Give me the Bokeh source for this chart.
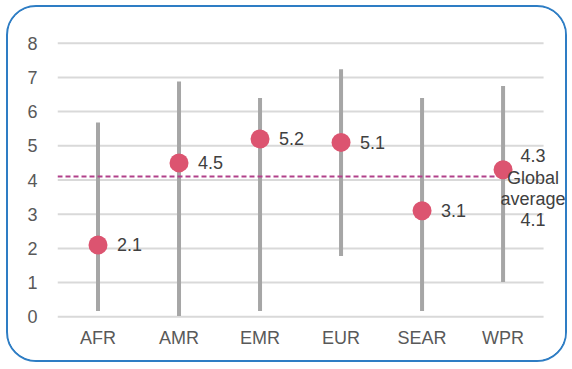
from bokeh.plotting import figure
from bokeh.models import Range1d, FixedTicker, ColumnDataSource
from bokeh.embed import file_html
from bokeh.resources import INLINE
from bokeh.core.properties import value

regions = ["AFR", "AMR", "EMR", "EUR", "SEAR", "WPR"]
range_low = [0.17, 0.02, 0.17, 1.78, 0.17, 1.02]
range_high = [5.68, 6.88, 6.40, 7.24, 6.40, 6.75]
points = [2.1, 4.5, 5.2, 5.1, 3.1, 4.3]
global_avg = 4.1
y_ticks = [0, 1, 2, 3, 4, 5, 6, 7, 8]

xs = list(range(len(regions)))
src = ColumnDataSource(dict(x=xs, lo=range_low, hi=range_high, v=points))

FONT = "Liberation Sans"
x_lo, x_hi = -0.5, len(regions) - 0.5

p = figure(width=561, height=357, output_backend="svg", toolbar_location=None,
           x_range=Range1d(x_lo, x_hi + 0.32), y_range=Range1d(-0.05, 8.05),
           min_border_left=49, min_border_right=0, min_border_top=34, min_border_bottom=46)
p.styles = {"border": "2px solid #2E7DC4", "border-radius": "30px", "overflow": "hidden",
            "margin-left": "6px", "margin-top": "5px"}
p.outline_line_color = None
p.background_fill_color = "white"
p.border_fill_color = "white"

p.xgrid.grid_line_color = None
p.ygrid.grid_line_color = None
# horizontal gridlines limited to the category area
p.segment(x0=[x_lo] * len(y_ticks), x1=[x_hi] * len(y_ticks), y0=y_ticks, y1=y_ticks,
          line_color="#D9D9D9", line_width=2)
p.yaxis.ticker = FixedTicker(ticks=y_ticks)
p.xaxis.ticker = FixedTicker(ticks=xs)
p.xaxis.major_label_overrides = {i: r for i, r in enumerate(regions)}
for ax in (p.xaxis, p.yaxis):
    ax.axis_line_color = None
    ax.major_tick_line_color = None
    ax.minor_tick_line_color = None
    ax.major_label_text_font = FONT
    ax.major_label_text_font_size = "18px"
    ax.major_label_text_color = "#595959"
p.xaxis.major_label_standoff = 3
p.yaxis.major_label_standoff = 14

p.segment(x0="x", x1="x", y0="lo", y1="hi", source=src, line_color="#A6A6A6", line_width=4)
p.segment(x0=[x_lo], x1=[xs[-1]], y0=[global_avg], y1=[global_avg],
          line_color="#B1408A", line_width=2, line_dash="5 3")
p.scatter(x="x", y="v", source=src, size=19, fill_color="#DC5470", line_color=None)

lab_src = ColumnDataSource(dict(x=xs[:-1], v=points[:-1], lab=[f"{v:.1f}" for v in points[:-1]]))
p.text(x="x", y="v", text="lab", source=lab_src, x_offset=19, text_baseline="middle",
       text_font=value(FONT), text_font_size="18px", text_color="#404040")

# WPR label and global average annotation
wpr_src = ColumnDataSource(dict(
    x=[xs[-1]] * 4,
    y=[points[-1], global_avg, global_avg, global_avg],
    t=[f"{points[-1]:.1f}", "Global", "average", f"{global_avg:.1f}"],
    yo=[-14, 1, 22, 43]))
p.text(x="x", y="y", text="t", source=wpr_src, x_offset=30, y_offset="yo",
       text_align="center", text_baseline="middle", text_font=value(FONT),
       text_font_size="18px", text_color="#404040")

open("out.html", "w").write(file_html(p, INLINE))
